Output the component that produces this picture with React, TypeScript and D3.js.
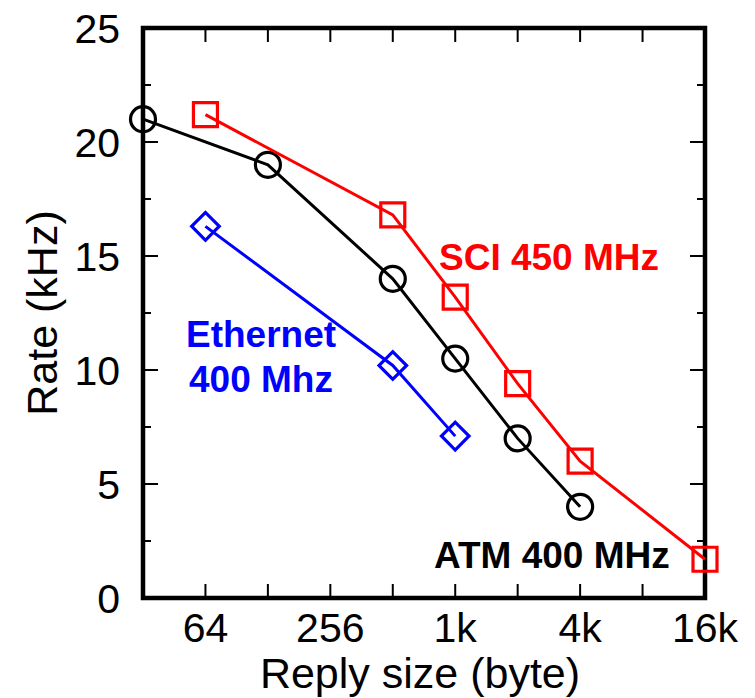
import React, { useEffect, useRef } from 'react';
import * as d3 from 'd3';

// reply size in bytes
const atmSizes = [32, 128, 512, 1024, 2048, 4096];
const atmRate = [21, 19, 14, 10.5, 7, 4];

const sciSizes = [64, 512, 1024, 2048, 4096, 16384];
const sciRate = [21.2, 16.8, 13.2, 9.4, 6, 1.7];

const ethSizes = [64, 512, 1024];
const ethRate = [16.3, 10.2, 7.1];

const xTicks = [64, 128, 256, 512, 1024, 2048, 4096, 8192, 16384];
const xLabels: { [k: number]: string } = { 64: '64', 256: '256', 1024: '1k', 4096: '4k', 16384: '16k' };
const yMajor = [0, 5, 10, 15, 20, 25];
const yMinor = [2.5, 7.5, 12.5, 17.5, 22.5];

const W = 755;
const H = 698;
const font = 'Liberation Sans, Arial, Helvetica, sans-serif';

export default function App() {
  const ref = useRef<SVGSVGElement>(null);

  useEffect(() => {
    const svg = d3.select(ref.current);
    svg.selectAll('*').remove();

    const left = 143, right = 705, top = 28, bottom = 598;

    const x = d3.scaleLog().base(2).domain([32, 16384]).range([left, right]);
    const y = d3.scaleLinear().domain([0, 25]).range([bottom, top]);

    const g = svg.append('g');

    // ticks (mirrored on all sides)
    const ticks = g.append('g').attr('stroke', '#000').attr('stroke-width', 2);
    xTicks.forEach(t => {
      ticks.append('line').attr('x1', x(t)).attr('x2', x(t)).attr('y1', bottom).attr('y2', bottom - 14);
      ticks.append('line').attr('x1', x(t)).attr('x2', x(t)).attr('y1', top).attr('y2', top + 14);
    });
    yMajor.forEach(t => {
      ticks.append('line').attr('x1', left).attr('x2', left + 15).attr('y1', y(t)).attr('y2', y(t));
      ticks.append('line').attr('x1', right).attr('x2', right - 15).attr('y1', y(t)).attr('y2', y(t));
    });
    yMinor.forEach(t => {
      ticks.append('line').attr('x1', left).attr('x2', left + 8).attr('y1', y(t)).attr('y2', y(t));
      ticks.append('line').attr('x1', right).attr('x2', right - 8).attr('y1', y(t)).attr('y2', y(t));
    });

    // frame
    g.append('rect')
      .attr('x', left).attr('y', top)
      .attr('width', right - left).attr('height', bottom - top)
      .attr('fill', 'none').attr('stroke', '#000').attr('stroke-width', 4.5);

    // tick labels
    g.selectAll('.xlab')
      .data(xTicks.filter(t => xLabels[t]))
      .enter().append('text')
      .attr('x', d => x(d)).attr('y', 642)
      .attr('text-anchor', 'middle')
      .attr('font-family', font).attr('font-size', 41)
      .text(d => xLabels[d]);

    g.selectAll('.ylab')
      .data(yMajor)
      .enter().append('text')
      .attr('x', 120).attr('y', d => y(d) + 15)
      .attr('text-anchor', 'end')
      .attr('font-family', font).attr('font-size', 41)
      .text(d => d);

    // axis titles
    g.append('text')
      .attr('x', (left + right) / 2 - 4).attr('y', 688)
      .attr('text-anchor', 'middle')
      .attr('font-family', font).attr('font-size', 43)
      .text('Reply size (byte)');

    g.append('text')
      .attr('transform', 'translate(57,313) rotate(-90)')
      .attr('text-anchor', 'middle')
      .attr('font-family', font).attr('font-size', 43)
      .text('Rate (kHz)');

    const line = d3.line<[number, number]>().x(d => x(d[0])).y(d => y(d[1]));

    const series = [
      { sizes: atmSizes, rate: atmRate, color: '#000', mark: 'circle' },
      { sizes: sciSizes, rate: sciRate, color: '#ff0000', mark: 'square' },
      { sizes: ethSizes, rate: ethRate, color: '#0000ff', mark: 'diamond' },
    ];

    series.forEach(s => {
      const pts: [number, number][] = s.sizes.map((v, i) => [v, s.rate[i]]);
      g.append('path')
        .datum(pts)
        .attr('d', line)
        .attr('fill', 'none')
        .attr('stroke', s.color)
        .attr('stroke-width', 3);

      const sym = s.mark === 'circle'
        ? d3.symbol().type(d3.symbolCircle).size(Math.PI * 12.5 * 12.5)
        : s.mark === 'square'
          ? d3.symbol().type(d3.symbolSquare).size(24 * 24)
          : d3.symbol().type(d3.symbolSquare).size(19.5 * 19.5);

      g.selectAll(null)
        .data(pts)
        .enter().append('path')
        .attr('d', sym as any)
        .attr('transform', d => `translate(${x(d[0])},${y(d[1])})` + (s.mark === 'diamond' ? ' rotate(45)' : ''))
        .attr('fill', 'none')
        .attr('stroke', s.color)
        .attr('stroke-width', 3.2);
    });

    // series labels
    const lab = (t: string, lx: number, ly: number, color: string, anchor = 'start') =>
      g.append('text')
        .attr('x', lx).attr('y', ly)
        .attr('text-anchor', anchor)
        .attr('font-family', font).attr('font-weight', 'bold').attr('font-size', 37)
        .attr('fill', color)
        .text(t);

    lab('SCI 450 MHz', 439, 270, '#ff0000');
    lab('Ethernet', 261, 347, '#0000ff', 'middle');
    lab('400 Mhz', 261, 392, '#0000ff', 'middle');
    lab('ATM 400 MHz', 434, 568, '#000');
  }, []);

  return (
    <svg ref={ref} width={W} height={H}
      style={{ position: 'absolute', left: 0, top: 0, background: '#fff' }} />
  );
}
